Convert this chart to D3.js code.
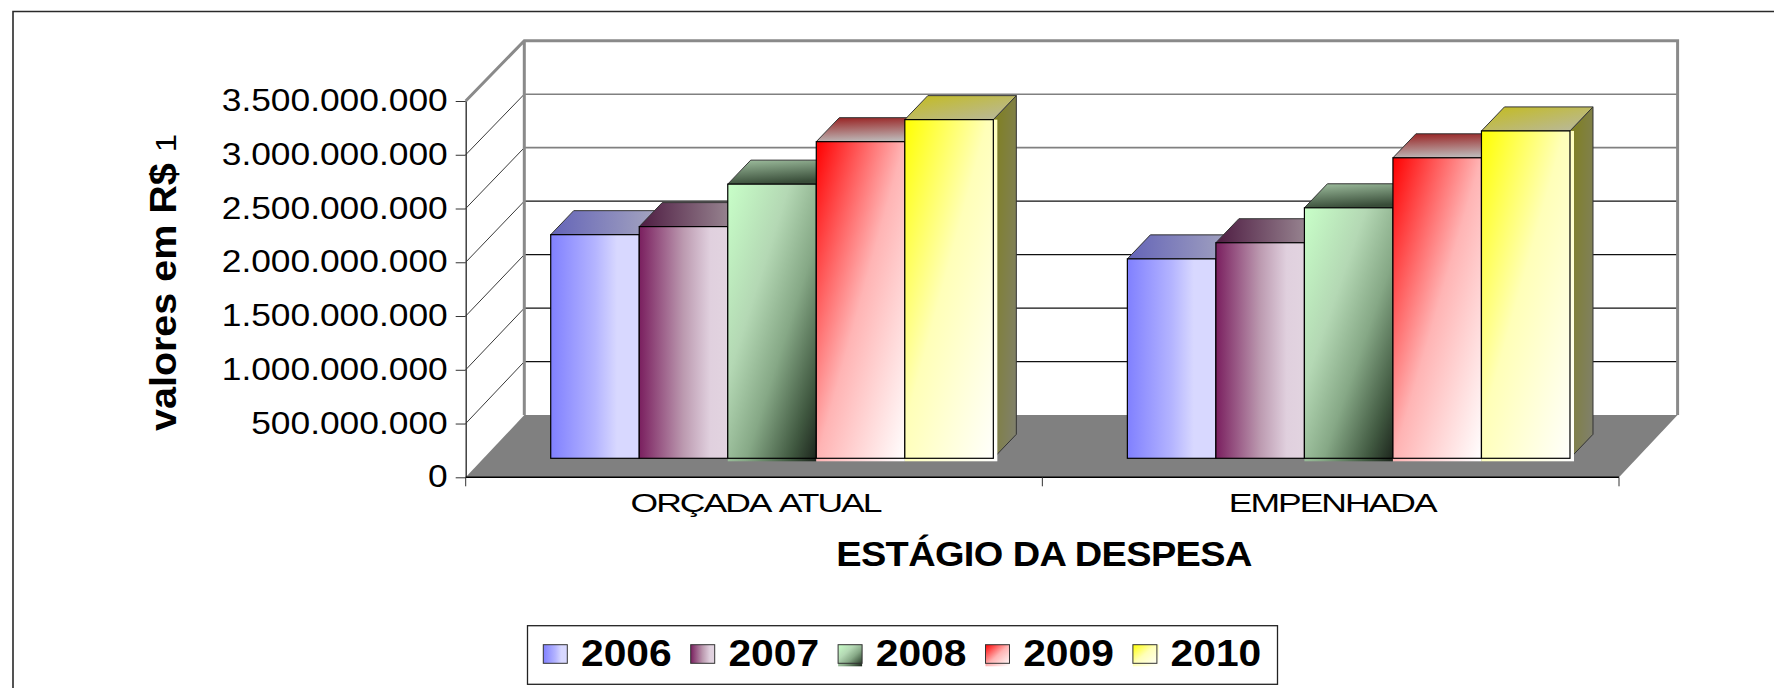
<!DOCTYPE html>
<html>
<head>
<meta charset="utf-8">
<script src="https://cdn.jsdelivr.net/npm/d3@7"></script>
<style>
  html, body { margin: 0; padding: 0; background: #fff; }
  svg { display: block; }
  text { font-family: "Liberation Sans", Arial, sans-serif; fill: #000; }
</style>
</head>
<body>
<div id="chart"></div>
<script>
var categories = ["ORÇADA ATUAL", "EMPENHADA"];
var years = ["2006", "2007", "2008", "2009", "2010"];
var orcadaAtual = [2080000000, 2155000000, 2550000000, 2945000000, 3150000000];
var empenhada = [1855000000, 2005000000, 2330000000, 2795000000, 3045000000];
var yTicks = [0, 500000000, 1000000000, 1500000000, 2000000000, 2500000000, 3000000000, 3500000000];
var seriesByCategory = [orcadaAtual, empenhada];

var width = 1774, height = 688;

// plot box
var frontLeft = 465.7, frontRight = 1619, frontBottom = 477.3, frontTop = 101;
var wallDx = 58.6, wallDy = 62.2;
var barInsetX = 18, barInsetY = 19, barDepthX = 23, barDepthY = 24;

var faceStyles = {
  "2006": { front: [[0, "#8080ff"], [0.5, "#b4b4ff"], [0.75, "#d8d8ff"], [1, "#d8d8ff"]], dir: "h", top: ["#6464b8", "#a8a8c0"], side: ["#5a5a90", "#70708c"] },
  "2007": { front: [[0, "#7a1f5f"], [0.5, "#bc9ab0"], [0.8, "#e0d0de"], [1, "#e2d4e0"]], dir: "h", top: ["#4e1c42", "#a89ca2"], side: ["#4e1c42", "#706068"] },
  "2008": { front: [[0, "#c8ffc8"], [0.35, "#b4d8b4"], [0.6, "#86a886"], [0.85, "#405840"], [1, "#1c241c"]], dir: "d", top: ["#a0c0a0", "#384c38"], side: ["#60785f", "#405040"] },
  "2009": { front: [[0, "#ff0000"], [0.5, "#ffb4b4"], [1, "#ffffff"]], dir: "d", top: ["#982020", "#bcb4b4"], side: ["#802020", "#807070"] },
  "2010": { front: [[0, "#ffff00"], [0.45, "#ffffb8"], [1, "#ffffff"]], dir: "d", top: ["#c4bc1c", "#b8b8a4"], side: ["#80801c", "#808070"] }
};
// the fill of the later series runs a little past its outline
var bleedBottom = { "2006": 0, "2007": 0, "2008": 3, "2009": 3, "2010": 3 };
var bleedRight = { "2006": 0, "2007": 0, "2008": 0, "2009": 0, "2010": 4 };

var svg = d3.select("#chart").append("svg").attr("width", width).attr("height", height);

var defs = svg.append("defs");

function addGradient(id, stops, dir) {
  var g = defs.append("linearGradient").attr("id", id)
    .attr("x1", 0).attr("y1", 0)
    .attr("x2", 1).attr("y2", dir === "h" ? 0 : 1);
  stops.forEach(function (s) {
    g.append("stop").attr("offset", s[0]).attr("stop-color", s[1]);
  });
}

years.forEach(function (y) {
  var st = faceStyles[y];
  addGradient("front" + y, st.front, st.dir);
  addGradient("top" + y, [[0, st.top[0]], [1, st.top[1]]], st.dir === "h" ? "h" : "v");
  addGradient("side" + y, [[0, st.side[0]], [1, st.side[1]]], "d");
});
d3.select("#top2009").attr("x2", 0.15);
d3.select("#top2010").attr("x2", 1).attr("y2", 1);
d3.select("#top2008").attr("x2", 0.3);

var fmt = d3.formatLocale({ decimal: ",", thousands: ".", grouping: [3], currency: ["R$", ""] }).format(",d");

var yMax = d3.max(yTicks);
var yFront = d3.scaleLinear().domain([0, yMax]).range([frontBottom, frontTop]);
var yBack = d3.scaleLinear().domain([0, yMax]).range([frontBottom - wallDy, frontTop - wallDy + 1.9]);
var yBar = d3.scaleLinear().domain([0, yMax]).range([frontBottom - barInsetY, frontTop - barInsetY]);
var xCat = d3.scaleBand().domain(categories).range([frontLeft, frontRight]).paddingInner(0);
var xYear = d3.scaleBand().domain(years).range([0, xCat.bandwidth()]).paddingInner(0).paddingOuter(0.757);

// outer frame: only the top and the left side show
svg.append("path").attr("d", "M13,688V11.5H" + width).attr("fill", "none").attr("stroke", "#2a2a2a").attr("stroke-width", 1.6);

// floor
svg.append("polygon")
  .attr("points", [[frontLeft, frontBottom], [frontLeft + wallDx, frontBottom - wallDy], [frontRight + wallDx, frontBottom - wallDy], [frontRight, frontBottom]].join(" "))
  .attr("fill", "#808080");

// back wall gridlines
svg.append("g").selectAll("line").data(yTicks.slice(1, -1)).enter().append("line")
  .attr("x1", frontLeft + wallDx).attr("x2", frontRight + wallDx)
  .attr("y1", function (d) { return yBack(d); }).attr("y2", function (d) { return yBack(d); })
  .attr("stroke", function (d) { return d >= 2500000000 ? "#808080" : "#111"; })
  .attr("stroke-width", function (d) { return d >= 2500000000 ? 1.6 : 1.1; });

// side wall diagonals
svg.append("g").selectAll("line").data(yTicks.slice(1, -1)).enter().append("line")
  .attr("x1", frontLeft).attr("x2", frontLeft + wallDx)
  .attr("y1", function (d) { return yFront(d); }).attr("y2", function (d) { return yBack(d); })
  .attr("stroke", "#222").attr("stroke-width", 0.9);

// heavy grey wall outline
svg.append("path")
  .attr("d", "M" + frontLeft + "," + yFront(yMax) + "L" + (frontLeft + wallDx) + "," + yBack(yMax) +
    "H" + (frontRight + wallDx) + "V" + yBack(0) + "M" + (frontLeft + wallDx) + "," + yBack(yMax) + "V" + yBack(0))
  .attr("fill", "none").attr("stroke", "#8a8a8a").attr("stroke-width", 3);

// y axis
var yAxisG = svg.append("g").attr("transform", "translate(" + frontLeft + ",0)")
  .call(d3.axisLeft(yFront).tickValues(yTicks).tickFormat(fmt).tickSize(10).tickSizeOuter(0));
yAxisG.select(".domain").attr("stroke", "#333").attr("stroke-width", 1.4);
yAxisG.selectAll(".tick line").attr("stroke", "#333");
yAxisG.selectAll(".tick text")
  .attr("x", 0).attr("dy", "0.34em")
  .attr("transform", "translate(-18,-1) scale(1.14,1)")
  .style("font-size", "31px");

// x axis
var xAxisTicks = [frontLeft, xCat(categories[1]), frontRight];
svg.append("line").attr("x1", frontLeft).attr("x2", frontRight).attr("y1", frontBottom).attr("y2", frontBottom)
  .attr("stroke", "#000").attr("stroke-width", 1.6);
svg.append("g").selectAll("line").data(xAxisTicks).enter().append("line")
  .attr("x1", function (d) { return d; }).attr("x2", function (d) { return d; })
  .attr("y1", frontBottom).attr("y2", frontBottom + 9)
  .attr("stroke", "#333");

// bars
var barW = xYear.bandwidth();
categories.forEach(function (cat, c) {
  var g = svg.append("g").attr("class", "group");
  years.forEach(function (year, i) {
    var v = seriesByCategory[c][i];
    var x = xCat(cat) + xYear(year) + barInsetX;
    var y = yBar(v), y0 = yBar(0);
    // side
    g.append("polygon")
      .attr("points", [[x + barW, y], [x + barW + barDepthX, y - barDepthY], [x + barW + barDepthX, y0 - barDepthY], [x + barW, y0]].join(" "))
      .attr("fill", "url(#side" + year + ")").attr("stroke", "#333").attr("stroke-width", 1);
    // top
    g.append("polygon")
      .attr("points", [[x, y], [x + barDepthX, y - barDepthY], [x + barW + barDepthX, y - barDepthY], [x + barW, y]].join(" "))
      .attr("fill", "url(#top" + year + ")").attr("stroke", "#333").attr("stroke-width", 1);
    // front fill, then outline
    g.append("rect")
      .attr("x", x).attr("y", y)
      .attr("width", barW + bleedRight[year]).attr("height", y0 - y + bleedBottom[year])
      .attr("fill", "url(#front" + year + ")");
    g.append("rect")
      .attr("x", x).attr("y", y)
      .attr("width", barW).attr("height", y0 - y)
      .attr("fill", "none").attr("stroke", "#000").attr("stroke-width", 1.2);
  });
});

// category labels
svg.append("g").selectAll("text").data(categories).enter().append("text")
  .attr("transform", function (d) { return "translate(" + (xCat(d) + xCat.bandwidth() / 2 + 1.5) + ",512) scale(1.42,1)"; })
  .attr("text-anchor", "middle")
  .style("font-size", "25px")
  .style("letter-spacing", "-1.4px")
  .style("word-spacing", "3px")
  .text(function (d) { return d; });

// axis titles
svg.append("text")
  .attr("transform", "translate(1044,566) scale(1.1,1)")
  .attr("text-anchor", "middle")
  .style("font-size", "34.5px").style("font-weight", "bold").style("letter-spacing", "-0.55px")
  .text("ESTÁGIO DA DESPESA");

var yTitle = svg.append("text")
  .attr("transform", "translate(176,431) rotate(-90) scale(1,0.92)")
  .style("font-size", "39.5px").style("font-weight", "bold")
  .text("valores em R$ ");
yTitle.append("tspan").style("font-weight", "normal").style("font-size", "33px").text("1");

// legend
var legendX = d3.scaleBand().domain(years).range([543.3, 543.3 + 147.4 * years.length]);
var legendY = 644.7, swatchW = 24, swatchH = 18.6;
svg.append("rect").attr("x", 527.5).attr("y", 625.7).attr("width", 750).attr("height", 58.6)
  .attr("fill", "#fff").attr("stroke", "#222").attr("stroke-width", 1.3);
var legendItems = svg.append("g").selectAll("g").data(years).enter().append("g")
  .attr("transform", function (d) { return "translate(" + legendX(d) + "," + legendY + ")"; });
legendItems.append("rect")
  .attr("width", function (d) { return swatchW + bleedRight[d] / 2; })
  .attr("height", function (d) { return swatchH + bleedBottom[d]; })
  .attr("fill", function (d) { return "url(#front" + d + ")"; });
legendItems.append("rect")
  .attr("width", swatchW).attr("height", swatchH)
  .attr("fill", "none").attr("stroke", "#333").attr("stroke-width", 1);
legendItems.append("text")
  .attr("transform", "translate(37.7,21) scale(1.12,1)")
  .style("font-size", "36.4px").style("font-weight", "bold")
  .text(function (d) { return d; });
</script>
</body>
</html>
